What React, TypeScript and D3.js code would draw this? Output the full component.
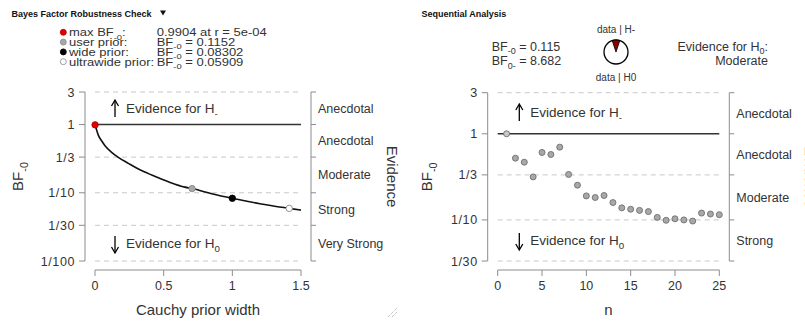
import React from 'react';
import * as d3 from 'd3';

// ---- data ----
const curveR = [0, 0.024, 0.049, 0.073, 0.121, 0.17, 0.243, 0.316, 0.413, 0.535, 0.655, 0.707, 0.85, 1.0, 1.2, 1.414, 1.5];
const curveBF = [1.0, 0.70, 0.573, 0.49, 0.391, 0.33, 0.27, 0.223, 0.182, 0.145, 0.121, 0.1152, 0.097, 0.083, 0.0692, 0.0591, 0.0557];

const priorNames = ['max', 'user prior:', 'wide prior:', 'ultrawide prior:'];
const priorR = [0.0005, 0.707, 1.0, 1.414];
const priorBF = [0.9904, 0.1152, 0.08302, 0.05909];
const priorValueText = ['0.9904 at r = 5e-04', '0.1152', '0.08302', '0.05909'];
const priorFill = ['#e00000', '#a8a8a8', '#000000', '#ffffff'];
const priorStroke = ['#b00000', '#888888', '#000000', '#888888'];

const seqN = d3.range(1, 26);
const seqBF = [1.0, 0.521, 0.468, 0.316, 0.607, 0.575, 0.700, 0.337, 0.253, 0.190, 0.182, 0.192, 0.159,
  0.138, 0.133, 0.129, 0.125, 0.107, 0.099, 0.103, 0.100, 0.097, 0.120, 0.117, 0.115];

const leftTicks = [3, 1, 1 / 3, 1 / 10, 1 / 30, 1 / 100];
const leftTickLabels = ['3', '1', '1/3', '1/10', '1/30', '1/100'];
const leftEvidence = ['Anecdotal', 'Anecdotal', 'Moderate', 'Strong', 'Very Strong'];
const rightTicks = [3, 1, 1 / 3, 1 / 10, 1 / 30];
const rightTickLabels = ['3', '1', '1/3', '1/10', '1/30'];
const rightEvidence = ['Anecdotal', 'Anecdotal', 'Moderate', 'Strong'];
const leftXTicks = [0, 0.5, 1, 1.5];
const leftXLabels = ['0', '0.5', '1', '1.5'];
const rightXTicks = [0, 5, 10, 15, 20, 25];

const bfMinus0 = 0.115;
const bf0Minus = 8.682;

const FONT = '"Liberation Sans", Arial, sans-serif';
const TXT = '#333';
const AXIS = '#8c8c8c';

// text with a subscript part: pre + main + sub + rest
function Sub({ pre = '', main, sub, rest = '', size }: { pre?: string; main: string; sub: string; rest?: string; size: number }) {
  const d = size * 0.3;
  return (
    <>
      <tspan>{pre + main}</tspan>
      <tspan dy={d} fontSize={size * 0.72}>{sub}</tspan>
      {rest ? <tspan dy={-d}>{rest}</tspan> : null}
    </>
  );
}

function Panel({ x, y, ticks, tickLabels, evidence, xTicks, xLabels, xTitle, children, arrowX, upY, downY, yTitleX }: any) {
  const [x0, x1] = x.range();
  const yTop = y(ticks[0]);
  const yBot = y(ticks[ticks.length - 1]);
  const axisY = yBot + 9;
  const leftAxisX = x0 - 10;
  const rightAxisX = x1 + 10;
  return (
    <g fontFamily={FONT} fill={TXT}>
      {ticks.map((t: number, i: number) => t === 1 ? null : (
        <line key={'g' + i} x1={x0} x2={x1} y1={y(t)} y2={y(t)} stroke="#c8c8c8" strokeDasharray="5,4" />
      ))}
      <line x1={x0} x2={x1} y1={y(1)} y2={y(1)} stroke="#333" strokeWidth={1.6} />
      {/* left axis */}
      <line x1={leftAxisX} x2={leftAxisX} y1={yTop} y2={yBot} stroke={AXIS} />
      {ticks.map((t: number, i: number) => (
        <g key={'lt' + i}>
          <line x1={leftAxisX - 6} x2={leftAxisX} y1={y(t)} y2={y(t)} stroke={AXIS} />
          <text x={leftAxisX - 10} y={y(t) + 4.5} textAnchor="end" fontSize={12.5} letterSpacing={0.6}>{tickLabels[i]}</text>
        </g>
      ))}
      {/* right axis */}
      <line x1={rightAxisX} x2={rightAxisX} y1={yTop} y2={yBot} stroke={AXIS} />
      {ticks.map((t: number, i: number) => (
        <line key={'rt' + i} x1={rightAxisX} x2={rightAxisX + 5} y1={y(t)} y2={y(t)} stroke={AXIS} />
      ))}
      {evidence.map((e: string, i: number) => (
        <text key={'ev' + i} x={rightAxisX + 7} y={y(Math.sqrt(ticks[i] * ticks[i + 1])) + 4.5} fontSize={12.5}>{e}</text>
      ))}
      {/* bottom axis */}
      <line x1={x0} x2={x1} y1={axisY} y2={axisY} stroke={AXIS} />
      {xTicks.map((t: number, i: number) => (
        <g key={'xt' + i}>
          <line x1={x(t)} x2={x(t)} y1={axisY} y2={axisY + 6} stroke={AXIS} />
          <text x={x(t)} y={axisY + 20} textAnchor="middle" fontSize={12.5}>{xLabels ? xLabels[i] : String(t)}</text>
        </g>
      ))}
      <text x={(x0 + x1) / 2} y={axisY + 45} textAnchor="middle" fontSize={15}>{xTitle}</text>
      {/* y titles */}
      <text transform={`translate(${yTitleX},${(yTop + yBot) / 2}) rotate(-90)`} textAnchor="middle" fontSize={15}>
        <Sub main="BF" sub="-0" size={15} />
      </text>
      <text transform={`translate(${rightAxisX + 76},${(yTop + yBot) / 2}) rotate(90)`} textAnchor="middle" fontSize={15}>Evidence</text>
      {/* evidence arrows */}
      <line x1={arrowX} x2={arrowX} y1={upY + 4} y2={upY - 12} stroke="#000" strokeWidth={1.3} />
      <path d={`M${arrowX - 3.5},${upY - 7} L${arrowX},${upY - 13} L${arrowX + 3.5},${upY - 7}`} fill="none" stroke="#000" strokeWidth={1.3} />
      <text x={arrowX + 11} y={upY} fontSize={13.5}><Sub main="Evidence for H" sub="-" size={13.5} /></text>
      <line x1={arrowX} x2={arrowX} y1={downY - 12} y2={downY + 4} stroke="#000" strokeWidth={1.3} />
      <path d={`M${arrowX - 3.5},${downY - 1} L${arrowX},${downY + 5} L${arrowX + 3.5},${downY - 1}`} fill="none" stroke="#000" strokeWidth={1.3} />
      <text x={arrowX + 11} y={downY} fontSize={13.5}><Sub main="Evidence for H" sub="0" size={13.5} /></text>
      {children}
    </g>
  );
}

export default function App() {
  const xL = d3.scaleLinear().domain([0, 1.5]).range([95, 301]);
  const yL = d3.scaleLog().domain([1 / 100, 3]).range([261, 92]);
  const xR = d3.scaleLinear().domain([0, 25]).range([497.7, 719.3]);
  const yR = d3.scaleLog().domain([1 / 30, 3]).range([261, 92.7]);

  const curve = d3.line<number>()
    .x((_, i) => xL(curveR[i]))
    .y(d => yL(d))
    .curve(d3.curveMonotoneX)(curveBF) || '';

  const p = bfMinus0 / (1 + bfMinus0);
  const pieR = 12;
  const wedge = d3.arc()({ innerRadius: 0, outerRadius: pieR, startAngle: -Math.PI * p, endAngle: Math.PI * p }) || '';

  return (
    <svg width={805} height={321} style={{ position: 'absolute', left: 0, top: 0, background: '#fff' }}>
      <rect width={805} height={321} fill="#fff" />
      {/* titles */}
      <text x={11.5} y={17} fontFamily={FONT} fontWeight="bold" fontSize={9} fill="#111">Bayes Factor Robustness Check</text>
      <path d="M160,10.5 L166,10.5 L163,15.5 Z" fill="#111" />
      <text x={421.5} y={17} fontFamily={FONT} fontWeight="bold" fontSize={9} fill="#111">Sequential Analysis</text>

      {/* robustness legend (text slightly squeezed vertically, as in the reference) */}
      <g fontFamily={FONT} fontSize={13} fill={TXT}>
        {priorNames.map((n, i) => {
          const cy = 32.3 + i * 9.8;
          return (
            <g key={'lg' + i}>
              <circle cx={63.3} cy={cy} r={3} fill={priorFill[i]} stroke={priorStroke[i]} strokeWidth={0.8} />
              <text transform={`translate(69,${cy + 4}) scale(1,0.85)`}>
                {i === 0 ? <Sub pre="max " main="BF" sub="-0" rest=":" size={13} /> : n}
              </text>
              <text transform={`translate(156.7,${cy + 4}) scale(1,0.85)`}>
                {i === 0 ? priorValueText[i] : <Sub main="BF" sub="-0" rest={' = ' + priorValueText[i]} size={13} />}
              </text>
            </g>
          );
        })}
      </g>

      <Panel x={xL} y={yL} ticks={leftTicks} tickLabels={leftTickLabels} evidence={leftEvidence}
        xTicks={leftXTicks} xLabels={leftXLabels} xTitle="Cauchy prior width" arrowX={115} upY={113} downY={248} yTitleX={23}>
        <path d={curve} fill="none" stroke="#111" strokeWidth={1.6} />
        {priorR.map((r, i) => (
          <circle key={'pp' + i} cx={xL(r)} cy={yL(priorBF[i])} r={3.2} fill={priorFill[i]} stroke={priorStroke[i]} strokeWidth={0.9} />
        ))}
      </Panel>

      <Panel x={xR} y={yR} ticks={rightTicks} tickLabels={rightTickLabels} evidence={rightEvidence}
        xTicks={rightXTicks} xTitle="n" arrowX={519.3} upY={117} downY={245} yTitleX={432}>
        {seqN.map((n, i) => (
          <circle key={'sq' + i} cx={xR(n)} cy={yR(seqBF[i])} r={3} fill={i === 0 ? '#c8c8c8' : '#a8a8a8'} stroke="#6e6e6e" strokeWidth={0.9} />
        ))}
      </Panel>

      {/* sequential header */}
      <g fontFamily={FONT} fill={TXT}>
        <text x={491.7} y={50.5} fontSize={12.5}><Sub main="BF" sub="-0" rest={' = ' + bfMinus0.toFixed(3)} size={12.5} /></text>
        <text x={491.7} y={65} fontSize={12.5}><Sub main="BF" sub="0-" rest={' = ' + bf0Minus.toFixed(3)} size={12.5} /></text>
        <text x={768} y={50.5} fontSize={12.5} textAnchor="end"><Sub main="Evidence for H" sub="0" rest=":" size={12.5} /></text>
        <text x={768} y={65} fontSize={12.5} textAnchor="end">Moderate</text>
        <text x={616} y={33} fontSize={10} textAnchor="middle">data | H-</text>
        <text x={616} y={81} fontSize={10} textAnchor="middle">data | H0</text>
        <g transform={`translate(616,52)`}>
          <circle r={pieR} fill="#fff" stroke="#000" strokeWidth={1.3} />
          <path d={wedge} fill="#8b0000" stroke="#000" strokeWidth={0.8} />
        </g>
      </g>

      {/* resize grip */}
      <g stroke="#aaa" strokeDasharray="1,1">
        <line x1={388} y1={317} x2={397} y2={308} />
        <line x1={392} y1={317} x2={397} y2={312} />
      </g>
    </svg>
  );
}
